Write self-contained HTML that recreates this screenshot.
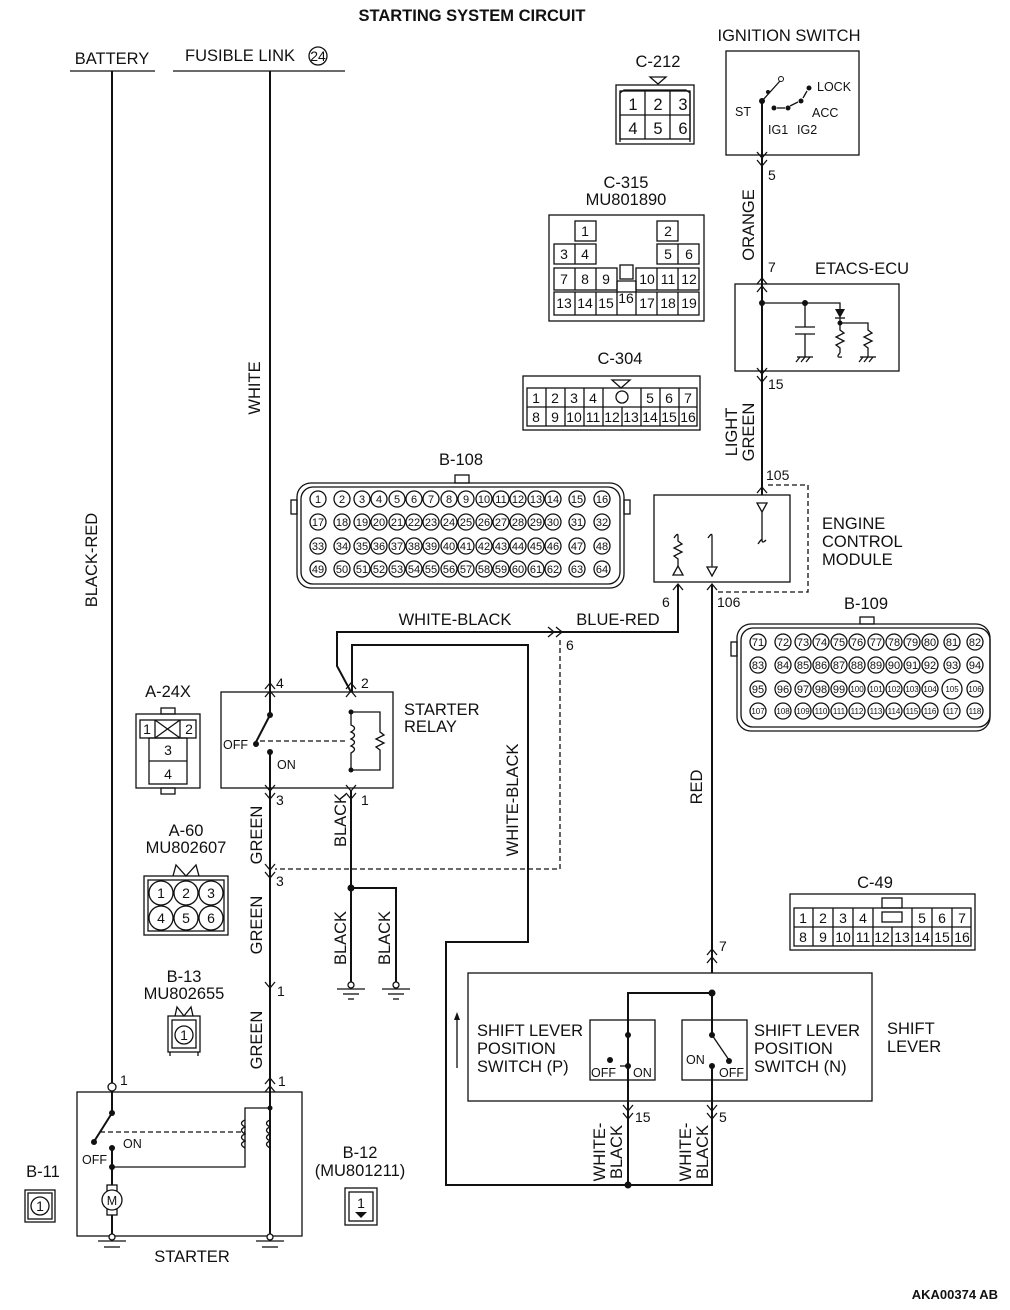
<!DOCTYPE html>
<html><head><meta charset="utf-8"><style>
html,body{margin:0;padding:0;background:#fff}
svg{display:block}
text{font-family:"Liberation Sans",sans-serif;fill:#111}
.l{font-size:16.5px}
.p{font-size:14px}
.s{font-size:12.5px}
.c{font-size:11px}
.w{stroke:#111;stroke-width:2;fill:none}
.t{stroke:#111;stroke-width:1.3;fill:none}
.d{stroke:#111;stroke-width:1.3;fill:none;stroke-dasharray:5,3}
.f{fill:#111}
</style></head><body>
<svg width="1010" height="1310" viewBox="0 0 1010 1310" xmlns="http://www.w3.org/2000/svg">
<text x="472" y="21" text-anchor="middle" style="font-size:16.5px;font-weight:bold">STARTING SYSTEM CIRCUIT</text>

<!-- battery / fusible link -->
<text x="112" y="64" class="l" text-anchor="middle">BATTERY</text>
<line x1="70" y1="71" x2="155" y2="71" class="t"/>
<text x="185" y="61" class="l">FUSIBLE LINK</text>
<circle cx="318" cy="56" r="9" class="t"/><text x="318" y="61" class="p" text-anchor="middle">24</text>
<line x1="173" y1="71" x2="345" y2="71" class="t"/>
<line x1="112" y1="71" x2="112" y2="1083" class="w"/>
<circle cx="112" cy="1087" r="4" fill="#fff" stroke="#111" stroke-width="1.3"/>
<text x="120" y="1085" class="p">1</text>
<line x1="270" y1="71" x2="270" y2="715" class="w"/>
<line x1="270" y1="752" x2="270" y2="1238" class="w"/>
<text transform="translate(97,560) rotate(-90)" class="l" text-anchor="middle">BLACK-RED</text>
<text transform="translate(260,388) rotate(-90)" class="l" text-anchor="middle">WHITE</text>

<!-- starter relay -->
<rect x="221" y="692" width="172" height="96" class="t"/>
<polyline points="265,689 270,683 275,689" class="t"/><polyline points="265,697 270,691 275,697" class="t"/>
<text x="276" y="688" class="p">4</text>
<polyline points="346,689 351,683 356,689" class="t"/><polyline points="346,697 351,691 356,697" class="t"/>
<text x="361" y="688" class="p">2</text>
<text x="404" y="715" class="l">STARTER</text><text x="404" y="732" class="l">RELAY</text>
<circle cx="270" cy="715" r="3" class="f"/>
<line x1="270" y1="715" x2="256" y2="742" class="w" stroke-width="1.5"/>
<circle cx="256" cy="744" r="3" class="f"/>
<circle cx="270" cy="752" r="3" class="f"/>
<text x="223" y="749" class="s">OFF</text><text x="277" y="769" class="s">ON</text>
<line x1="260" y1="741" x2="345" y2="741" class="d"/>
<circle cx="351" cy="712" r="2.5" class="f"/><circle cx="351" cy="770" r="2.5" class="f"/>
<path d="M351,712 L351,725 q7,3 0,7 q7,3 0,7 q7,3 0,7 q7,3 0,7 L351,770" class="t"/>
<polyline points="351,712 380,712 380,732 384,735 376,739 384,743 376,747 380,750 380,770 351,770" class="t"/>
<polyline points="265,785 270,791 275,785" class="t"/><polyline points="265,793 270,799 275,793" class="t"/>
<text x="276" y="805" class="p">3</text>
<polyline points="346,785 351,791 356,785" class="t"/><polyline points="346,793 351,799 356,793" class="t"/>
<text x="361" y="805" class="p">1</text>

<!-- white-black / blue-red -->
<polyline points="351,692 337,666 337,632 678,632 678,585" class="w"/>
<polyline points="548,627 554,632 548,637" class="t"/><polyline points="556,627 562,632 556,637" class="t"/>
<text x="455" y="625" class="l" text-anchor="middle">WHITE-BLACK</text>
<text x="618" y="625" class="l" text-anchor="middle">BLUE-RED</text>
<text x="566" y="650" class="p">6</text>
<polyline points="560,640 560,869 275,869" class="d"/>
<polyline points="352,692 352,645 528,645 528,942 446,942 446,1185 712,1185 712,1105" class="w"/>
<circle cx="628" cy="1185" r="3.5" class="f"/>
<text transform="translate(518,800) rotate(-90)" class="l" text-anchor="middle">WHITE-BLACK</text>

<!-- grounds -->
<line x1="351" y1="790" x2="351" y2="985" class="w"/>
<circle cx="351" cy="888" r="3.5" class="f"/>
<polyline points="351,888 396,888 396,985" class="w"/>
<text transform="translate(346,820) rotate(-90)" class="l" text-anchor="middle">BLACK</text>
<text transform="translate(346,938) rotate(-90)" class="l" text-anchor="middle">BLACK</text>
<text transform="translate(390,938) rotate(-90)" class="l" text-anchor="middle">BLACK</text>
<g class="t"><circle cx="351" cy="985" r="3" fill="#fff"/><line x1="337" y1="989" x2="365" y2="989"/><line x1="343" y1="994" x2="359" y2="994"/><line x1="348" y1="999" x2="354" y2="999"/>
<circle cx="396" cy="985" r="3" fill="#fff"/><line x1="382" y1="989" x2="410" y2="989"/><line x1="388" y1="994" x2="404" y2="994"/><line x1="393" y1="999" x2="399" y2="999"/></g>

<!-- green -->
<polyline points="265,864 270,870 275,864" class="t"/><polyline points="265,872 270,878 275,872" class="t"/>
<text x="276" y="886" class="p">3</text>
<polyline points="265,982 270,988 275,982" class="t"/>
<text x="277" y="996" class="p">1</text>
<polyline points="265,1084 270,1078 275,1084" class="t"/><polyline points="265,1092 270,1086 275,1092" class="t"/>
<text x="278" y="1086" class="p">1</text>
<text transform="translate(262,835) rotate(-90)" class="l" text-anchor="middle">GREEN</text>
<text transform="translate(262,925) rotate(-90)" class="l" text-anchor="middle">GREEN</text>
<text transform="translate(262,1040) rotate(-90)" class="l" text-anchor="middle">GREEN</text>

<!-- starter -->
<rect x="77" y="1092" width="225" height="144" class="t"/>
<line x1="112" y1="1092" x2="112" y2="1113" class="w"/>
<circle cx="112" cy="1113" r="3" class="f"/>
<line x1="112" y1="1113" x2="95" y2="1140" class="w" stroke-width="1.5"/>
<circle cx="94" cy="1142" r="3" class="f"/>
<circle cx="112" cy="1148" r="3" class="f"/>
<line x1="112" y1="1148" x2="112" y2="1185" class="w"/>
<circle cx="112" cy="1167" r="3" class="f"/>
<polyline points="112,1167 245,1167 245,1108 270,1108" class="t"/>
<circle cx="270" cy="1108" r="2.5" class="f"/>
<path d="M245,1120 q-7,3 0,7 q-7,3 0,7 q-7,3 0,7 q-7,3 0,7" class="t"/>
<path d="M270,1120 q-7,3 0,7 q-7,3 0,7 q-7,3 0,7 q-7,3 0,7" class="t"/>
<rect x="246" y="1118" width="3" height="32" fill="#fff"/><rect x="271" y="1118" width="3" height="32" fill="#fff"/>
<line x1="100" y1="1132" x2="245" y2="1132" class="d"/>
<text x="82" y="1164" class="s">OFF</text><text x="123" y="1148" class="s">ON</text>
<rect x="107" y="1185" width="10" height="6" class="t"/><rect x="107" y="1209" width="10" height="6" class="t"/>
<circle cx="112" cy="1200" r="10" fill="#fff" stroke="#111" stroke-width="1.3"/>
<text x="112" y="1205" class="s" text-anchor="middle">M</text>
<line x1="112" y1="1215" x2="112" y2="1236" class="w"/>
<g class="t"><circle cx="112" cy="1237" r="3" fill="#fff"/><line x1="98" y1="1241" x2="126" y2="1241"/><line x1="104" y1="1247" x2="120" y2="1247"/>
<circle cx="270" cy="1237" r="3" fill="#fff"/><line x1="256" y1="1241" x2="284" y2="1241"/><line x1="262" y1="1247" x2="278" y2="1247"/></g>
<text x="192" y="1262" class="l" text-anchor="middle">STARTER</text>

<!-- small connectors -->
<text x="43" y="1177" class="l" text-anchor="middle">B-11</text>
<rect x="25" y="1190" width="30" height="32" class="t"/><rect x="28" y="1193" width="24" height="26" class="t"/>
<circle cx="40" cy="1206" r="9" class="t"/><text x="40" y="1211" class="p" text-anchor="middle">1</text>
<text x="360" y="1158" class="l" text-anchor="middle">B-12</text>
<text x="360" y="1176" class="l" text-anchor="middle">(MU801211)</text>
<rect x="345" y="1188" width="32" height="37" class="t"/><rect x="349" y="1192" width="24" height="29" class="t"/>
<text x="361" y="1208" class="p" text-anchor="middle">1</text><polygon points="355,1212 367,1212 361,1218" class="f"/>

<text x="168" y="697" class="l" text-anchor="middle">A-24X</text>
<rect x="161" y="708" width="14" height="6" class="t"/><rect x="161" y="788" width="14" height="6" class="t"/>
<rect x="136" y="714" width="64" height="74" class="t"/>
<rect x="140" y="720" width="56" height="18" class="t"/>
<line x1="155" y1="720" x2="155" y2="738" class="t"/><line x1="180" y1="720" x2="180" y2="738" class="t"/>
<line x1="155" y1="720" x2="180" y2="738" class="t"/><line x1="180" y1="720" x2="155" y2="738" class="t"/>
<text x="147" y="734" class="p" text-anchor="middle">1</text><text x="189" y="734" class="p" text-anchor="middle">2</text>
<rect x="149" y="738" width="38" height="46" class="t"/><line x1="149" y1="761" x2="187" y2="761" class="t"/>
<text x="168" y="755" class="p" text-anchor="middle">3</text><text x="168" y="779" class="p" text-anchor="middle">4</text>

<text x="186" y="836" class="l" text-anchor="middle">A-60</text>
<text x="186" y="853" class="l" text-anchor="middle">MU802607</text>
<polyline points="173,876 176,865 186,876 196,865 199,876" class="t"/>
<rect x="144" y="876" width="84" height="59" class="t"/><rect x="148" y="880" width="76" height="51" class="t"/>
<g class="t"><circle cx="161" cy="893" r="12"/><circle cx="186" cy="893" r="12"/><circle cx="211" cy="893" r="12"/>
<circle cx="161" cy="918" r="12"/><circle cx="186" cy="918" r="12"/><circle cx="211" cy="918" r="12"/></g>
<g class="p" text-anchor="middle"><text x="161" y="898">1</text><text x="186" y="898">2</text><text x="211" y="898">3</text><text x="161" y="923">4</text><text x="186" y="923">5</text><text x="211" y="923">6</text></g>

<text x="184" y="982" class="l" text-anchor="middle">B-13</text>
<text x="184" y="999" class="l" text-anchor="middle">MU802655</text>
<polyline points="175,1016 177,1007 184,1016 191,1007 193,1016" class="t"/>
<rect x="168" y="1016" width="32" height="36" class="t"/><rect x="172" y="1020" width="24" height="28" class="t"/>
<line x1="170" y1="1052" x2="170" y2="1056" class="t"/><line x1="198" y1="1052" x2="198" y2="1056" class="t"/>
<circle cx="184" cy="1035" r="9" class="t"/><text x="184" y="1040" class="p" text-anchor="middle">1</text>

<!-- ignition switch -->
<text x="789" y="41" class="l" text-anchor="middle">IGNITION SWITCH</text>
<rect x="726" y="51" width="133" height="104" class="t"/>
<line x1="762" y1="101" x2="762" y2="380" class="w"/>
<circle cx="762" cy="101" r="3" class="f"/>
<line x1="762" y1="101" x2="780" y2="81" class="t" stroke-width="1.5"/>
<circle cx="781" cy="79" r="2.5" fill="#fff" stroke="#111"/>
<circle cx="768" cy="92" r="2" class="f"/>
<circle cx="774" cy="108" r="2.5" class="f"/><circle cx="788" cy="108" r="2.5" class="f"/>
<circle cx="801" cy="101" r="2.5" class="f"/><circle cx="809" cy="88" r="2.5" class="f"/>
<line x1="777" y1="108" x2="785" y2="108" class="t"/><line x1="790" y1="106" x2="798" y2="102" class="t"/><line x1="803" y1="98" x2="807" y2="91" class="t"/>
<text x="817" y="91" class="s">LOCK</text><text x="735" y="116" class="s">ST</text><text x="812" y="117" class="s">ACC</text>
<text x="768" y="134" class="s">IG1</text><text x="797" y="134" class="s">IG2</text>
<polyline points="757,152 762,158 767,152" class="t"/><polyline points="757,160 762,166 767,160" class="t"/>
<text x="768" y="180" class="p">5</text>
<text transform="translate(754,225) rotate(-90)" class="l" text-anchor="middle">ORANGE</text>

<!-- ETACS -->
<text x="768" y="272" class="p">7</text>
<text x="862" y="274" class="l" text-anchor="middle">ETACS-ECU</text>
<rect x="735" y="284" width="164" height="87" class="t"/>
<polyline points="757,284 762,278 767,284" class="t"/><polyline points="757,292 762,286 767,292" class="t"/>
<circle cx="762" cy="303" r="3" class="f"/><circle cx="805" cy="303" r="3" class="f"/>
<polyline points="762,303 840,303 840,310" class="t"/>
<line x1="805" y1="303" x2="805" y2="327" class="t"/>
<line x1="795" y1="327" x2="815" y2="327" class="t"/><line x1="795" y1="334" x2="815" y2="334" class="t"/>
<line x1="805" y1="334" x2="805" y2="357" class="t"/>
<line x1="797" y1="357" x2="813" y2="357" class="t"/>
<polygon points="835,309 845,309 840,318" class="f"/><line x1="835" y1="318" x2="845" y2="318" class="t"/>
<circle cx="840" cy="323" r="2.5" class="f"/>
<polyline points="840,318 840,330 844,333 836,337 844,341 836,345 840,348 840,353" class="t"/>
<path d="M840,353 q-5,5 2,4" class="t"/>
<polyline points="840,323 868,323 868,330 872,333 864,337 872,341 864,345 868,348 868,357" class="t"/>
<line x1="860" y1="357" x2="876" y2="357" class="t"/>
<g class="t"><line x1="800" y1="357" x2="796" y2="362"/><line x1="805" y1="357" x2="801" y2="362"/><line x1="810" y1="357" x2="806" y2="362"/>
<line x1="863" y1="357" x2="859" y2="362"/><line x1="868" y1="357" x2="864" y2="362"/><line x1="873" y1="357" x2="869" y2="362"/></g>
<polyline points="757,368 762,374 767,368" class="t"/><polyline points="757,376 762,382 767,376" class="t"/>
<text x="768" y="389" class="p">15</text>
<text transform="translate(737,432) rotate(-90)" class="l" text-anchor="middle">LIGHT</text>
<text transform="translate(754,432) rotate(-90)" class="l" text-anchor="middle">GREEN</text>
<line x1="762" y1="380" x2="762" y2="495" class="w"/>

<!-- ECM -->
<text x="766" y="480" class="p">105</text>
<polyline points="757,493 762,487 767,493" class="t"/>
<rect x="654" y="495" width="136" height="87" class="t"/>
<polyline points="768,485 808,485 808,592 718,592" class="d"/>
<text x="822" y="529" class="l">ENGINE</text><text x="822" y="547" class="l">CONTROL</text><text x="822" y="565" class="l">MODULE</text>
<polygon points="757,503 767,503 762,512" fill="#fff" stroke="#111" stroke-width="1.3"/>
<line x1="762" y1="512" x2="762" y2="540" class="t"/><path d="M758,544 q4,-6 4,-4 q0,4 4,0" class="t"/>
<path d="M674,538 q4,-6 4,-2" class="t"/>
<polyline points="678,536 678,541 682,544 674,548 682,552 674,556 678,559 678,566" class="t"/>
<polygon points="673,575 683,575 678,566" fill="#fff" stroke="#111" stroke-width="1.3"/>
<path d="M708,538 q4,-6 4,-2" class="t"/><line x1="712" y1="536" x2="712" y2="567" class="t"/>
<polygon points="707,567 717,567 712,576" fill="#fff" stroke="#111" stroke-width="1.3"/>
<polyline points="673,590 678,584 683,590" class="t"/>
<text x="662" y="607" class="p">6</text>
<polyline points="707,590 712,584 717,590" class="t"/>
<text x="717" y="607" class="p">106</text>
<line x1="712" y1="585" x2="712" y2="973" class="w"/>
<text transform="translate(702,787) rotate(-90)" class="l" text-anchor="middle">RED</text>
<polyline points="707,955 712,949 717,955" class="t"/><polyline points="707,963 712,957 717,963" class="t"/>
<text x="719" y="951" class="p">7</text>

<!-- shift lever -->
<rect x="468" y="973" width="404" height="128" class="t"/>
<text x="887" y="1034" class="l">SHIFT</text><text x="887" y="1052" class="l">LEVER</text>
<line x1="457" y1="1068" x2="457" y2="1018" class="t"/><polygon points="454,1020 460,1020 457,1012" class="f"/>
<circle cx="712" cy="993" r="3.5" class="f"/>
<polyline points="712,993 628,993 628,1185" class="w"/>
<rect x="590" y="1020" width="65" height="60" class="t"/>
<rect x="682" y="1020" width="65" height="60" class="t"/>
<text x="477" y="1036" class="l">SHIFT LEVER</text><text x="477" y="1054" class="l">POSITION</text><text x="477" y="1072" class="l">SWITCH (P)</text>
<text x="754" y="1036" class="l">SHIFT LEVER</text><text x="754" y="1054" class="l">POSITION</text><text x="754" y="1072" class="l">SWITCH (N)</text>
<circle cx="628" cy="1035" r="3" class="f"/><circle cx="610" cy="1060" r="3" class="f"/><circle cx="628" cy="1066" r="3" class="f"/>
<line x1="620" y1="1066" x2="628" y2="1066" class="t"/>
<text x="591" y="1077" class="s">OFF</text><text x="633" y="1077" class="s">ON</text>
<line x1="712" y1="993" x2="712" y2="1036" class="w"/>
<circle cx="712" cy="1035" r="3" class="f"/>
<line x1="712" y1="1035" x2="729" y2="1060" class="t" stroke-width="1.5"/>
<circle cx="729" cy="1061" r="3" class="f"/>
<circle cx="712" cy="1066" r="3" class="f"/>
<line x1="712" y1="1066" x2="712" y2="1110" class="w"/>
<text x="686" y="1064" class="s">ON</text><text x="719" y="1077" class="s">OFF</text>
<polyline points="623,1105 628,1111 633,1105" class="t"/><polyline points="623,1113 628,1119 633,1113" class="t"/>
<text x="635" y="1122" class="p">15</text>
<polyline points="707,1105 712,1111 717,1105" class="t"/><polyline points="707,1113 712,1119 717,1113" class="t"/>
<text x="719" y="1122" class="p">5</text>
<text transform="translate(605,1152) rotate(-90)" class="l" text-anchor="middle">WHITE-</text>
<text transform="translate(622,1152) rotate(-90)" class="l" text-anchor="middle">BLACK</text>
<text transform="translate(691,1152) rotate(-90)" class="l" text-anchor="middle">WHITE-</text>
<text transform="translate(708,1152) rotate(-90)" class="l" text-anchor="middle">BLACK</text>

<!-- C-212 -->
<text x="658" y="67" class="l" text-anchor="middle">C-212</text>
<polygon points="650,77 666,77 658,84" fill="#fff" stroke="#111" stroke-width="1.3"/>
<rect x="616" y="85" width="78" height="59" class="t"/>
<polyline points="620,142 620,93 624,90 686,90 690,93 690,142" class="t"/>
<rect x="620" y="91" width="70" height="48" class="t"/><line x1="620" y1="115" x2="690" y2="115" class="t"/>
<line x1="645" y1="91" x2="645" y2="139" class="t"/><line x1="670" y1="91" x2="670" y2="139" class="t"/>
<g class="l" text-anchor="middle"><text x="633" y="110">1</text><text x="658" y="110">2</text><text x="683" y="110">3</text><text x="633" y="134">4</text><text x="658" y="134">5</text><text x="683" y="134">6</text></g>

<!-- C-315 -->
<text x="626" y="188" class="l" text-anchor="middle">C-315</text>
<text x="626" y="205" class="l" text-anchor="middle">MU801890</text>
<rect x="549" y="215" width="155" height="106" class="t"/>
<g class="t">
<rect x="575" y="221" width="21" height="20"/><rect x="657" y="221" width="21" height="20"/>
<rect x="554" y="244" width="42" height="20"/><line x1="575" y1="244" x2="575" y2="264"/>
<rect x="657" y="244" width="42" height="20"/><line x1="678" y1="244" x2="678" y2="264"/>
<rect x="554" y="268" width="63" height="22"/><line x1="575" y1="268" x2="575" y2="290"/><line x1="596" y1="268" x2="596" y2="290"/>
<rect x="636" y="268" width="63" height="22"/><line x1="657" y1="268" x2="657" y2="290"/><line x1="678" y1="268" x2="678" y2="290"/>
<rect x="554" y="292" width="145" height="23"/><line x1="575" y1="292" x2="575" y2="315"/><line x1="596" y1="292" x2="596" y2="315"/><line x1="617" y1="281" x2="617" y2="315"/><line x1="636" y1="281" x2="636" y2="315"/><line x1="657" y1="292" x2="657" y2="315"/><line x1="678" y1="292" x2="678" y2="315"/>
<rect x="620" y="265" width="13" height="14"/><line x1="617" y1="281" x2="636" y2="281"/>
</g>
<g class="p" text-anchor="middle">
<text x="585" y="236">1</text><text x="668" y="236">2</text>
<text x="564" y="259">3</text><text x="585" y="259">4</text><text x="668" y="259">5</text><text x="689" y="259">6</text>
<text x="564" y="284">7</text><text x="585" y="284">8</text><text x="606" y="284">9</text><text x="647" y="284">10</text><text x="668" y="284">11</text><text x="689" y="284">12</text>
<text x="564" y="308">13</text><text x="585" y="308">14</text><text x="606" y="308">15</text><text x="626" y="303">16</text><text x="647" y="308">17</text><text x="668" y="308">18</text><text x="689" y="308">19</text></g>

<!-- C-304 -->
<text x="620" y="364" class="l" text-anchor="middle">C-304</text>
<rect x="523" y="376" width="177" height="54" class="t"/>
<polygon points="612,380 630,380 621,388" fill="#fff" stroke="#111" stroke-width="1.3"/>
<rect x="527" y="388" width="170" height="38" class="t"/><line x1="527" y1="407" x2="697" y2="407" class="t"/>
<g class="t"><line x1="546" y1="388" x2="546" y2="426"/><line x1="565" y1="388" x2="565" y2="426"/><line x1="584" y1="388" x2="584" y2="426"/><line x1="603" y1="388" x2="603" y2="426"/><line x1="641" y1="388" x2="641" y2="426"/><line x1="660" y1="388" x2="660" y2="426"/><line x1="679" y1="388" x2="679" y2="426"/><line x1="622" y1="407" x2="622" y2="426"/></g>
<circle cx="622" cy="397" r="6" class="t"/>
<g class="p" text-anchor="middle">
<text x="536" y="403">1</text><text x="555" y="403">2</text><text x="574" y="403">3</text><text x="593" y="403">4</text><text x="650" y="403">5</text><text x="669" y="403">6</text><text x="688" y="403">7</text>
<text x="536" y="422">8</text><text x="555" y="422">9</text><text x="574" y="422">10</text><text x="593" y="422">11</text><text x="612" y="422">12</text><text x="631" y="422">13</text><text x="650" y="422">14</text><text x="669" y="422">15</text><text x="688" y="422">16</text></g>

<!-- B-108 -->
<text x="461" y="465" class="l" text-anchor="middle">B-108</text>
<rect x="455" y="475" width="14" height="8" class="t"/>
<rect x="291" y="500" width="6" height="14" class="t"/><rect x="624" y="500" width="6" height="14" class="t"/>
<rect x="297" y="483" width="327" height="105" rx="14" class="t"/>
<rect x="301" y="487" width="319" height="97" rx="12" class="t"/>
<g class="t">
<circle cx="318" cy="499" r="8"/><circle cx="342" cy="499" r="8"/><circle cx="362" cy="499" r="8"/><circle cx="379" cy="499" r="8"/><circle cx="397" cy="499" r="8"/><circle cx="414" cy="499" r="8"/><circle cx="431" cy="499" r="8"/><circle cx="449" cy="499" r="8"/><circle cx="466" cy="499" r="8"/><circle cx="484" cy="499" r="8"/><circle cx="501" cy="499" r="8"/><circle cx="518" cy="499" r="8"/><circle cx="536" cy="499" r="8"/><circle cx="553" cy="499" r="8"/><circle cx="577" cy="499" r="8"/><circle cx="602" cy="499" r="8"/>
<circle cx="318" cy="522" r="8"/><circle cx="342" cy="522" r="8"/><circle cx="362" cy="522" r="8"/><circle cx="379" cy="522" r="8"/><circle cx="397" cy="522" r="8"/><circle cx="414" cy="522" r="8"/><circle cx="431" cy="522" r="8"/><circle cx="449" cy="522" r="8"/><circle cx="466" cy="522" r="8"/><circle cx="484" cy="522" r="8"/><circle cx="501" cy="522" r="8"/><circle cx="518" cy="522" r="8"/><circle cx="536" cy="522" r="8"/><circle cx="553" cy="522" r="8"/><circle cx="577" cy="522" r="8"/><circle cx="602" cy="522" r="8"/>
<circle cx="318" cy="546" r="8"/><circle cx="342" cy="546" r="8"/><circle cx="362" cy="546" r="8"/><circle cx="379" cy="546" r="8"/><circle cx="397" cy="546" r="8"/><circle cx="414" cy="546" r="8"/><circle cx="431" cy="546" r="8"/><circle cx="449" cy="546" r="8"/><circle cx="466" cy="546" r="8"/><circle cx="484" cy="546" r="8"/><circle cx="501" cy="546" r="8"/><circle cx="518" cy="546" r="8"/><circle cx="536" cy="546" r="8"/><circle cx="553" cy="546" r="8"/><circle cx="577" cy="546" r="8"/><circle cx="602" cy="546" r="8"/>
<circle cx="318" cy="569" r="8"/><circle cx="342" cy="569" r="8"/><circle cx="362" cy="569" r="8"/><circle cx="379" cy="569" r="8"/><circle cx="397" cy="569" r="8"/><circle cx="414" cy="569" r="8"/><circle cx="431" cy="569" r="8"/><circle cx="449" cy="569" r="8"/><circle cx="466" cy="569" r="8"/><circle cx="484" cy="569" r="8"/><circle cx="501" cy="569" r="8"/><circle cx="518" cy="569" r="8"/><circle cx="536" cy="569" r="8"/><circle cx="553" cy="569" r="8"/><circle cx="577" cy="569" r="8"/><circle cx="602" cy="569" r="8"/>
</g>
<g class="c" text-anchor="middle">
<text x="318" y="503">1</text><text x="342" y="503">2</text><text x="362" y="503">3</text><text x="379" y="503">4</text><text x="397" y="503">5</text><text x="414" y="503">6</text><text x="431" y="503">7</text><text x="449" y="503">8</text><text x="466" y="503">9</text><text x="484" y="503">10</text><text x="501" y="503">11</text><text x="518" y="503">12</text><text x="536" y="503">13</text><text x="553" y="503">14</text><text x="577" y="503">15</text><text x="602" y="503">16</text>
<text x="318" y="526">17</text><text x="342" y="526">18</text><text x="362" y="526">19</text><text x="379" y="526">20</text><text x="397" y="526">21</text><text x="414" y="526">22</text><text x="431" y="526">23</text><text x="449" y="526">24</text><text x="466" y="526">25</text><text x="484" y="526">26</text><text x="501" y="526">27</text><text x="518" y="526">28</text><text x="536" y="526">29</text><text x="553" y="526">30</text><text x="577" y="526">31</text><text x="602" y="526">32</text>
<text x="318" y="550">33</text><text x="342" y="550">34</text><text x="362" y="550">35</text><text x="379" y="550">36</text><text x="397" y="550">37</text><text x="414" y="550">38</text><text x="431" y="550">39</text><text x="449" y="550">40</text><text x="466" y="550">41</text><text x="484" y="550">42</text><text x="501" y="550">43</text><text x="518" y="550">44</text><text x="536" y="550">45</text><text x="553" y="550">46</text><text x="577" y="550">47</text><text x="602" y="550">48</text>
<text x="318" y="573">49</text><text x="342" y="573">50</text><text x="362" y="573">51</text><text x="379" y="573">52</text><text x="397" y="573">53</text><text x="414" y="573">54</text><text x="431" y="573">55</text><text x="449" y="573">56</text><text x="466" y="573">57</text><text x="484" y="573">58</text><text x="501" y="573">59</text><text x="518" y="573">60</text><text x="536" y="573">61</text><text x="553" y="573">62</text><text x="577" y="573">63</text><text x="602" y="573">64</text>
</g>

<!-- B-109 -->
<text x="866" y="609" class="l" text-anchor="middle">B-109</text>
<rect x="860" y="617" width="14" height="7" class="t"/>
<rect x="731" y="642" width="6" height="14" class="t"/>
<rect x="737" y="624" width="253" height="107" rx="14" class="t"/>
<rect x="741" y="628" width="249" height="99" rx="12" class="t"/>
<g class="t">
<circle cx="758" cy="642" r="8"/><circle cx="783" cy="642" r="8"/><circle cx="803" cy="642" r="8"/><circle cx="821" cy="642" r="8"/><circle cx="839" cy="642" r="8"/><circle cx="857" cy="642" r="8"/><circle cx="876" cy="642" r="8"/><circle cx="894" cy="642" r="8"/><circle cx="912" cy="642" r="8"/><circle cx="930" cy="642" r="8"/><circle cx="952" cy="642" r="8"/><circle cx="975" cy="642" r="8"/>
<circle cx="758" cy="665" r="8"/><circle cx="783" cy="665" r="8"/><circle cx="803" cy="665" r="8"/><circle cx="821" cy="665" r="8"/><circle cx="839" cy="665" r="8"/><circle cx="857" cy="665" r="8"/><circle cx="876" cy="665" r="8"/><circle cx="894" cy="665" r="8"/><circle cx="912" cy="665" r="8"/><circle cx="930" cy="665" r="8"/><circle cx="952" cy="665" r="8"/><circle cx="975" cy="665" r="8"/>
<circle cx="758" cy="689" r="8"/><circle cx="783" cy="689" r="8"/><circle cx="803" cy="689" r="8"/><circle cx="821" cy="689" r="8"/><circle cx="839" cy="689" r="8"/><circle cx="857" cy="689" r="8"/><circle cx="876" cy="689" r="8"/><circle cx="894" cy="689" r="8"/><circle cx="912" cy="689" r="8"/><circle cx="930" cy="689" r="8"/><circle cx="952" cy="689" r="10"/><circle cx="975" cy="689" r="8"/>
<circle cx="758" cy="711" r="8"/><circle cx="783" cy="711" r="8"/><circle cx="803" cy="711" r="8"/><circle cx="821" cy="711" r="8"/><circle cx="839" cy="711" r="8"/><circle cx="857" cy="711" r="8"/><circle cx="876" cy="711" r="8"/><circle cx="894" cy="711" r="8"/><circle cx="912" cy="711" r="8"/><circle cx="930" cy="711" r="8"/><circle cx="952" cy="711" r="8"/><circle cx="975" cy="711" r="8"/>
</g>
<g class="c" text-anchor="middle">
<text x="758" y="646">71</text><text x="783" y="646">72</text><text x="803" y="646">73</text><text x="821" y="646">74</text><text x="839" y="646">75</text><text x="857" y="646">76</text><text x="876" y="646">77</text><text x="894" y="646">78</text><text x="912" y="646">79</text><text x="930" y="646">80</text><text x="952" y="646">81</text><text x="975" y="646">82</text>
<text x="758" y="669">83</text><text x="783" y="669">84</text><text x="803" y="669">85</text><text x="821" y="669">86</text><text x="839" y="669">87</text><text x="857" y="669">88</text><text x="876" y="669">89</text><text x="894" y="669">90</text><text x="912" y="669">91</text><text x="930" y="669">92</text><text x="952" y="669">93</text><text x="975" y="669">94</text>
<text x="758" y="693">95</text><text x="783" y="693">96</text><text x="803" y="693">97</text><text x="821" y="693">98</text><text x="839" y="693">99</text>
</g>
<g text-anchor="middle" style="font-size:8px">
<text x="857" y="692">100</text><text x="876" y="692">101</text><text x="894" y="692">102</text><text x="912" y="692">103</text><text x="930" y="692">104</text><text x="952" y="692">105</text><text x="975" y="692">106</text>
<text x="758" y="714">107</text><text x="783" y="714">108</text><text x="803" y="714">109</text><text x="821" y="714">110</text><text x="839" y="714">111</text><text x="857" y="714">112</text><text x="876" y="714">113</text><text x="894" y="714">114</text><text x="912" y="714">115</text><text x="930" y="714">116</text><text x="952" y="714">117</text><text x="975" y="714">118</text>
</g>

<!-- C-49 -->
<text x="875" y="888" class="l" text-anchor="middle">C-49</text>
<rect x="790" y="894" width="185" height="56" class="t"/>
<rect x="882" y="898" width="20" height="10" class="t"/>
<rect x="794" y="908" width="177" height="38" class="t"/><line x1="794" y1="927" x2="971" y2="927" class="t"/>
<g class="t"><line x1="813" y1="908" x2="813" y2="946"/><line x1="833" y1="908" x2="833" y2="946"/><line x1="853" y1="908" x2="853" y2="946"/><line x1="873" y1="908" x2="873" y2="946"/><line x1="912" y1="908" x2="912" y2="946"/><line x1="932" y1="908" x2="932" y2="946"/><line x1="952" y1="908" x2="952" y2="946"/><line x1="892" y1="927" x2="892" y2="946"/></g>
<rect x="882" y="912" width="20" height="10" class="t"/>
<g class="p" text-anchor="middle">
<text x="803" y="923">1</text><text x="823" y="923">2</text><text x="843" y="923">3</text><text x="863" y="923">4</text><text x="922" y="923">5</text><text x="942" y="923">6</text><text x="962" y="923">7</text>
<text x="803" y="942">8</text><text x="823" y="942">9</text><text x="843" y="942">10</text><text x="863" y="942">11</text><text x="882" y="942">12</text><text x="902" y="942">13</text><text x="922" y="942">14</text><text x="942" y="942">15</text><text x="962" y="942">16</text></g>

<text x="998" y="1299" text-anchor="end" style="font-size:13px;font-weight:bold">AKA00374 AB</text>
</svg>
</body></html>
